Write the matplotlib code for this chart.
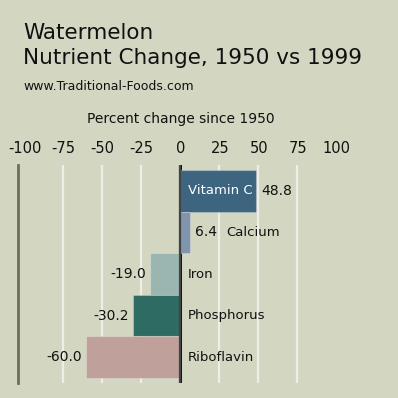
import matplotlib
matplotlib.use("Agg")
import matplotlib.pyplot as plt

nutrients = ["Vitamin C", "Calcium", "Iron", "Phosphorus", "Riboflavin"]
changes = [48.8, 6.4, -19.0, -30.2, -60.0]
colors = ["#3e6580", "#8094ab", "#9bb6b0", "#2e6b62", "#bfa09a"]
ticks = [-100, -75, -50, -25, 0, 25, 50, 75, 100]
gridvals = [-75, -50, -25, 25, 50, 75]

BG = "#d3d7c2"
W = H = 398
fig = plt.figure(figsize=(W / 100, H / 100), dpi=100, facecolor=BG)
plt.rcParams['font.family'] = ['DejaVu Sans']

def fx(px):
    return px / W

def fy(py):
    return 1 - py / H

ax = fig.add_axes([fx(18), fy(383), 1 - fx(18), fy(165) - fy(383)])
ax.set_facecolor(BG)
ax.set_xlim(-103.7, (398 - 180.7) / 1.56)
ax.set_ylim(4.62, -0.62)

for g in gridvals:
    ax.axvline(g, color="#eeeee6", lw=1.6, zorder=1)

ypos = list(range(len(nutrients)))
ax.barh(ypos, changes, height=1.0, color=colors, edgecolor=(1, 1, 1, 0.25),
        linewidth=0.8, zorder=2)
ax.axvline(0, color="#111111", lw=2.2, zorder=1.5)
ax.axvline(0, color="#444444", lw=1.6, zorder=3)

NAME_FS = 9.5
VAL_FS = 10
for i, (name, v) in enumerate(zip(nutrients, changes)):
    if v >= 0:
        ax.annotate(f"{v:.1f}", (v, i), xytext=(5, 0), textcoords="offset pixels",
                    ha="left", va="center", fontsize=VAL_FS, color="#111111")
        if i == 0:
            ax.annotate(name, (0, i), xytext=(8, 0), textcoords="offset pixels",
                        ha="left", va="center", fontsize=NAME_FS, color="white")
        else:
            ax.annotate(name, (v, i), xytext=(36, 0), textcoords="offset pixels",
                        ha="left", va="center", fontsize=NAME_FS, color="#111111")
    else:
        ax.annotate(f"{v:.1f}", (v, i), xytext=(-4, 0), textcoords="offset pixels",
                    ha="right", va="center", fontsize=VAL_FS, color="#111111")
        ax.annotate(name, (0, i), xytext=(8, 0), textcoords="offset pixels",
                    ha="left", va="center", fontsize=NAME_FS, color="#111111")

for s in ["top", "right", "bottom"]:
    ax.spines[s].set_visible(False)
ax.spines["left"].set_color("#6d6e60")
ax.spines["left"].set_linewidth(2)
ax.set_yticks([])
ax.set_xticks([])

# top tick labels
for t in ticks:
    xp = 180.7 + 1.56 * t
    fig.text(fx(xp), fy(148), f"{t}", ha="center", va="center", fontsize=10.5, color="#111111")

fig.text(fx(181), fy(123), "Percent change since 1950", ha="center", va="baseline",
         fontsize=10, color="#111111")
fig.text(fx(23), fy(39), "Watermelon", ha="left", va="baseline", fontsize=15.5, color="#111111")
fig.text(fx(23), fy(64), "Nutrient Change, 1950 vs 1999", ha="left", va="baseline",
         fontsize=15.5, color="#111111")
fig.text(fx(23), fy(90), "www.Traditional-Foods.com", ha="left", va="baseline",
         fontsize=9, color="#111111")

fig.savefig("out.png", dpi=100, facecolor=BG)
